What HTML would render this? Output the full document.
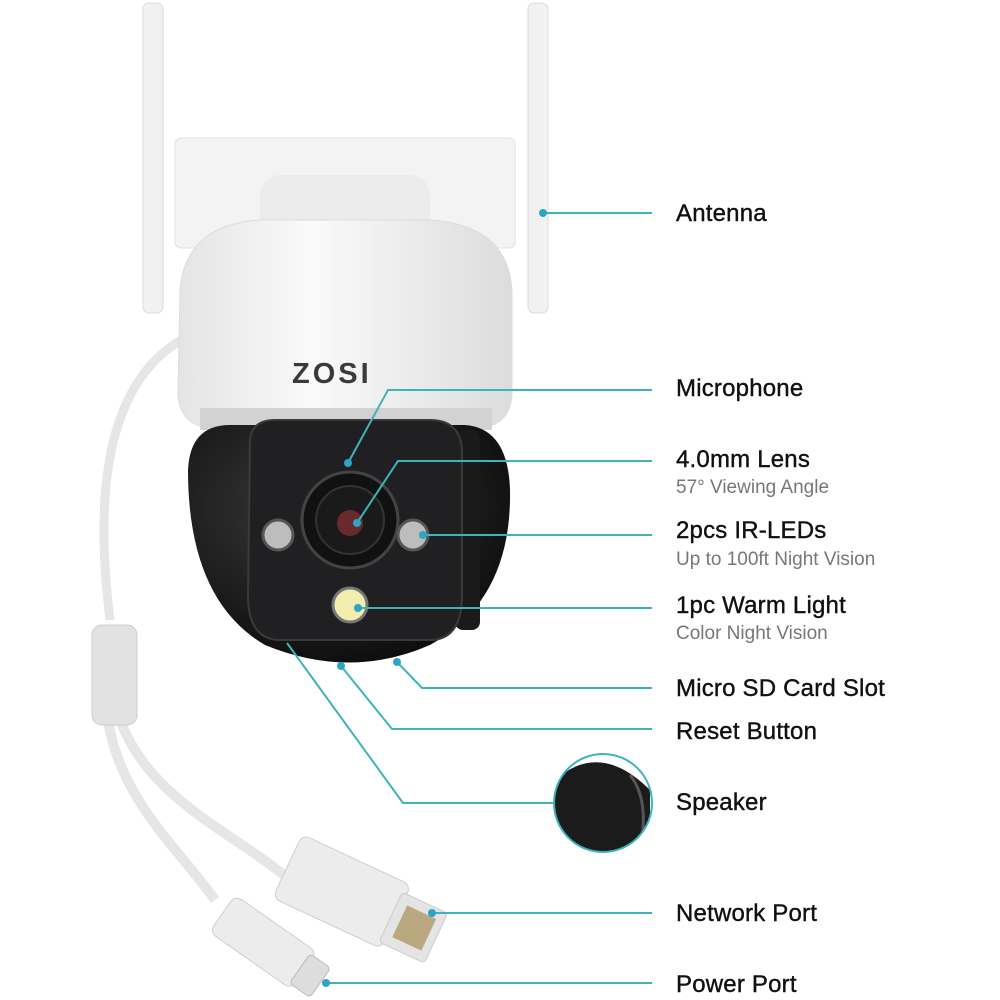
<!DOCTYPE html>
<html><head><style>
body{margin:0;width:1000px;height:1000px;background:#fff;overflow:hidden;position:relative;font-family:"Liberation Sans",sans-serif}
.l{position:absolute;left:676px;font-size:24px;color:#111;line-height:1;white-space:nowrap;letter-spacing:0.2px;-webkit-text-stroke:0.4px #111}
.s{position:absolute;left:676px;font-size:19px;color:#777;line-height:1;white-space:nowrap}
</style></head><body>
<svg width="1000" height="1000" style="position:absolute;left:0;top:0">
<defs>
<radialGradient id="ball" cx="0.4" cy="0.35" r="0.7"><stop offset="0" stop-color="#3a3a3c"/><stop offset="1" stop-color="#0c0c0d"/></radialGradient>
<linearGradient id="dome" x1="0" x2="1"><stop offset="0" stop-color="#e4e4e4"/><stop offset="0.4" stop-color="#fafafa"/><stop offset="1" stop-color="#dcdcdc"/></linearGradient>
</defs>
<path d="M190 335 C120 370 90 460 110 620" stroke="#e6e6e6" stroke-width="9" fill="none"/>
<path d="M120 720 C150 800 230 830 290 880" stroke="#e6e6e6" stroke-width="10" fill="none"/>
<path d="M108 720 C120 800 180 850 215 900" stroke="#e6e6e6" stroke-width="10" fill="none"/>
<rect x="92" y="625" width="45" height="100" rx="10" fill="#e2e2e2" stroke="#ccc"/>
<g transform="rotate(25 360 900)">
<rect x="280" y="865" width="120" height="70" rx="8" fill="#ececec" stroke="#cfcfcf"/>
<rect x="395" y="875" width="50" height="55" rx="4" fill="#e4e4e4" stroke="#ccc"/>
<rect x="405" y="885" width="32" height="35" fill="#b9a880"/>
</g>
<g transform="rotate(35 270 950)">
<rect x="210" y="925" width="100" height="45" rx="8" fill="#ececec" stroke="#cfcfcf"/>
<rect x="305" y="930" width="25" height="36" rx="4" fill="#ddd" stroke="#bbb"/>
</g>
<rect x="143" y="3" width="20" height="310" rx="6" fill="#f1f1f1" stroke="#ddd"/>
<rect x="528" y="3" width="20" height="310" rx="6" fill="#f1f1f1" stroke="#ddd"/>
<rect x="175" y="138" width="340" height="110" rx="6" fill="#f3f3f3" stroke="#e0e0e0"/>
<rect x="260" y="175" width="170" height="60" rx="20" fill="#ececec"/>
<path d="M180 290 Q185 225 260 220 L430 220 Q508 225 512 290 L512 395 Q510 425 480 428 L210 428 Q180 425 178 395 Z" fill="url(#dome)" stroke="#ddd"/>
<rect x="200" y="408" width="292" height="22" fill="#d2d2d2"/>
<text x="292" y="383" font-family="Liberation Sans" font-weight="bold" font-size="29" fill="#3a3a3a" letter-spacing="3">ZOSI</text>
<path d="M188 470 Q190 425 230 425 L465 425 Q508 428 510 490 Q512 600 430 645 Q350 680 265 645 Q188 600 188 470 Z" fill="url(#ball)"/>
<rect x="455" y="430" width="25" height="200" rx="8" fill="#1a1a1a"/>
<path d="M250 440 Q252 420 275 420 L430 420 Q460 420 462 450 L462 600 Q460 640 430 640 L280 640 Q250 640 248 600 Z" fill="#202022" stroke="#3a3a3a" stroke-width="2"/>
<circle cx="350" cy="520" r="48" fill="#111" stroke="#444" stroke-width="3"/>
<circle cx="350" cy="520" r="34" fill="#1a1a1a" stroke="#333" stroke-width="2"/>
<circle cx="350" cy="523" r="13" fill="#6a2a2c"/>
<circle cx="278" cy="535" r="15" fill="#bdbdbd" stroke="#555" stroke-width="3"/>
<circle cx="413" cy="535" r="15" fill="#bdbdbd" stroke="#555" stroke-width="3"/>
<circle cx="350" cy="605" r="17" fill="#f3eeae" stroke="#777" stroke-width="3"/>
<g stroke="#3fb3ba" stroke-width="2" fill="none">
<path d="M543 213 H652"/>
<path d="M348 463 L388 390 H652"/>
<path d="M357 523 L398 461 H652"/>
<path d="M423 535 H652"/>
<path d="M358 608 H652"/>
<path d="M397 662 L422 688 H652"/>
<path d="M341 666 L392 729 H652"/>
<path d="M287 643 L403 803 H553"/>
<path d="M432 913 H652"/>
<path d="M326 983 H652"/>
</g>
<g fill="#2aa6c4">
<circle cx="543" cy="213" r="4"/><circle cx="348" cy="463" r="4"/><circle cx="357" cy="523" r="4"/>
<circle cx="423" cy="535" r="4"/><circle cx="358" cy="608" r="4"/><circle cx="397" cy="662" r="4"/>
<circle cx="341" cy="666" r="4"/><circle cx="432" cy="913" r="4"/><circle cx="326" cy="983" r="4"/>
</g>
<clipPath id="c"><circle cx="603" cy="803" r="49"/></clipPath>
<g clip-path="url(#c)"><rect x="550" y="750" width="110" height="110" fill="#fff"/>
<path d="M555 780 Q600 740 650 790 L650 860 L555 860 Z" fill="#1b1b1c"/>
<path d="M630 775 Q650 800 640 850" stroke="#555" stroke-width="3" fill="none"/></g>
<circle cx="603" cy="803" r="49" stroke="#3fb3ba" stroke-width="2" fill="none"/>
</svg>
<div class="l" style="top:202px">Antenna</div>
<div class="l" style="top:377px">Microphone</div>
<div class="l" style="top:448px">4.0mm Lens</div>
<div class="s" style="top:478px">57° Viewing Angle</div>
<div class="l" style="top:519px">2pcs IR-LEDs</div>
<div class="s" style="top:550px">Up to 100ft Night Vision</div>
<div class="l" style="top:594px">1pc Warm Light</div>
<div class="s" style="top:624px">Color Night Vision</div>
<div class="l" style="top:677px">Micro SD Card Slot</div>
<div class="l" style="top:720px">Reset Button</div>
<div class="l" style="top:791px">Speaker</div>
<div class="l" style="top:902px">Network Port</div>
<div class="l" style="top:973px">Power Port</div>
</body></html>
